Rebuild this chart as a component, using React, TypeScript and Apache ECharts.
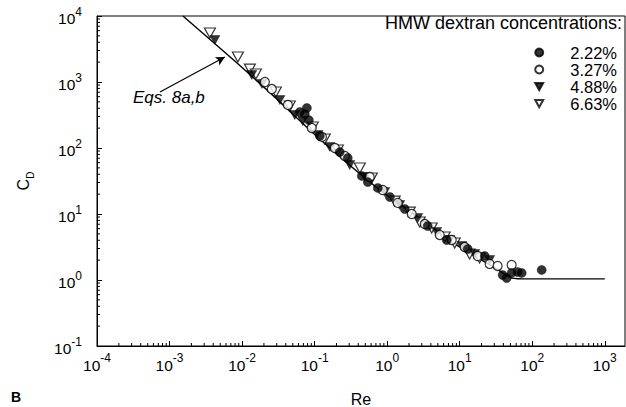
import React, { useEffect, useRef } from "react";
import * as echarts from "echarts";

const FONT = '"Liberation Sans", Arial, Helvetica, sans-serif';

const seriesNames = ["2.22%", "3.27%", "4.88%", "6.63%"];
const legendTitle = "HMW dextran concentrations:";
const eqLabel = "Eqs. 8a,b";

// 2.22 % (filled circles)
const re222 = [0.0625, 0.0733, 0.0832, 0.0782, 0.118, 0.222, 0.286, 0.447, 0.541, 0.743, 1.09, 1.75, 3.62, 6.62, 12.9, 22.1, 39.1, 44.4, 52.0, 63.0, 71.5, 135];
const cd222 = [351, 327, 265, 404, 152, 86.9, 70.5, 37.7, 30.5, 24.8, 18.1, 11.9, 6.58, 4.04, 2.95, 2.31, 1.19, 1.07, 1.28, 1.32, 1.28, 1.42];
// 3.27 % (open circles)
const re327 = [0.0206, 0.0257, 0.0428, 0.0914, 0.126, 0.19, 0.261, 0.575, 0.869, 1.4, 2.18, 3.3, 5.31, 7.76, 11.7, 17.7, 25.9, 33.3, 52.0];
const cd327 = [1000, 783, 449, 201, 147, 100, 75.7, 36.4, 23.1, 14.7, 10.0, 7.05, 4.81, 4.04, 3.16, 2.31, 1.75, 1.63, 1.69];
// 4.88 % (filled down triangles)
const re488 = [0.00422, 0.0136, 0.0188, 0.0332, 0.0533, 0.0687, 0.111, 0.162, 0.305, 0.491, 0.927, 1.49, 2.64, 4.82, 7.28, 10.7, 16.1, 25.9];
const cd488 = [4330, 1276, 933, 533, 316, 256, 157, 104, 55.2, 36.4, 21.5, 13.7, 8.69, 5.33, 4.04, 3.27, 2.48, 2.01];
// 6.63 % (open down triangles)
const re663 = [0.0036, 0.00875, 0.0128, 0.0155, 0.0292, 0.0455, 0.0944, 0.138, 0.209, 0.42, 0.614, 1.27, 2.05, 2.81, 4.11, 6.21, 8.53, 13.7, 18.8];
const cd663 = [5520, 2390, 1570, 1322, 705, 433, 208, 137, 93.3, 49.8, 35.1, 15.7, 10.7, 7.57, 6.14, 4.48, 3.64, 2.48, 2.15];

// Eqs. 8a,b curve
const eqRe = [0.00153, 0.00822, 0.0242, 0.1216, 0.791, 2.81, 10, 18.8, 32.4, 52.0, 92, 1000];
const eqCd = [10000, 2010, 690, 132, 23.1, 8.69, 3.16, 2.08, 1.47, 1.07, 1.04, 1.04];

// annotation arrow (data coords)
const arrowFrom = [0.000738, 705];
const arrowTo = [0.00579, 2390];

// axis ranges
const xMin = 1e-4;
const xMax = 1900;
const yMin = 0.1;
const yMax = 1e4;

const xMinorDecades = [-4, -3, -2, -1, 0, 1, 2];
const yMinorDecades = [-1, 0, 1, 2, 3];
const minorMultipliers = [2, 3, 4, 5, 6, 7, 8, 9];

const pairs = (a: number[], b: number[]) => a.map((v, i) => [v, b[i]]);

const TRI_DOWN = "path://M0,0L10,0L5,9Z";

function expLabel(v: number) {
  const e = Math.log10(v);
  const r = Math.round(e);
  if (Math.abs(e - r) > 1e-6) return "";
  return `{b|10}{s|${r}}`;
}

const tickRich = {
  b: { fontSize: 15.5, fontFamily: FONT, color: "#000", lineHeight: 21, verticalAlign: "bottom" },
  s: { fontSize: 12, fontFamily: FONT, color: "#000", lineHeight: 12, verticalAlign: "top" },
};

export default function App() {
  const ref = useRef<HTMLDivElement>(null);
  useEffect(() => {
    document.body.style.margin = "0";
    if (!ref.current) return;
    const chart = echarts.init(ref.current, undefined, { renderer: "svg" });

    const xMinor: number[][] = [];
    xMinorDecades.forEach((d) => minorMultipliers.forEach((m) => xMinor.push([m * Math.pow(10, d), yMin])));
    const yMinor: number[][] = [];
    yMinorDecades.forEach((d) => minorMultipliers.forEach((m) => yMinor.push([xMin, m * Math.pow(10, d)])));

    const openStyle = { color: "#fff", borderColor: "#000", borderWidth: 1.2 };
    const fillStyle = { color: "#000", borderColor: "#000", borderWidth: 0.5 };

    chart.setOption({
      animation: false,
      backgroundColor: "#fff",
      textStyle: { fontFamily: FONT },
      grid: {
        left: 97, top: 16, right: 1, bottom: 61,
        outerBoundsMode: "none", containLabel: false,
        show: true, borderColor: "#000", borderWidth: 1, backgroundColor: "transparent",
      },
      xAxis: {
        type: "log",
        logBase: 10,
        min: xMin,
        max: xMax,
        name: "Re",
        nameLocation: "middle",
        nameGap: 45,
        nameTextStyle: { fontSize: 16, color: "#000", fontFamily: FONT },
        axisLine: { lineStyle: { color: "#000", width: 1 } },
        axisTick: { inside: true, length: 5, lineStyle: { color: "#000" } },
        axisLabel: { margin: 6, formatter: expLabel, rich: tickRich, showMaxLabel: false },
        splitLine: { show: false },
      },
      yAxis: {
        type: "log",
        logBase: 10,
        min: yMin,
        max: yMax,
        name: "{c|C}{d|D}",
        nameLocation: "middle",
        nameRotate: 90,
        nameGap: 62,
        nameTextStyle: {
          rich: {
            c: { fontSize: 16, fontFamily: FONT, color: "#000", lineHeight: 20, verticalAlign: "top" },
            d: { fontSize: 10, fontFamily: FONT, color: "#000", lineHeight: 10, verticalAlign: "bottom" },
          },
        },
        axisLine: { lineStyle: { color: "#000", width: 1 } },
        axisTick: { inside: true, length: 5, lineStyle: { color: "#000" } },
        axisLabel: { margin: 15, formatter: expLabel, rich: tickRich },
        splitLine: { show: false },
      },
      legend: {
        data: seriesNames,
        orient: "vertical",
        right: 4,
        top: 39,
        itemWidth: 8,
        itemHeight: 8,
        itemGap: 0,
        selectedMode: false,
        align: "left",
        textStyle: { fontSize: 16.5, fontFamily: FONT, color: "#000", lineHeight: 16, padding: [0, 0, 0, 22] },
      },
      graphic: [
        { type: "text", right: 4, top: 14, style: { text: legendTitle, font: `18px ${FONT}`, fill: "#000" } },
        { type: "text", left: 133, top: 89, style: { text: eqLabel, font: `italic 17px ${FONT}`, fill: "#000" } },
        { type: "text", left: 11, top: 390, style: { text: "B", font: `bold 14px ${FONT}`, fill: "#000" } },
      ],
      series: [
        {
          type: "line",
          name: "Eqs. 8a,b",
          data: pairs(eqRe, eqCd),
          showSymbol: false,
          symbol: "none",
          smooth: 0.2,
          clip: true,
          lineStyle: { color: "#000", width: 1.4 },
          silent: true,
          z: 1,
          markLine: {
            silent: true,
            symbol: ["none", "arrow"],
            symbolSize: [7, 9],
            lineStyle: { color: "#000", width: 1.2, type: "solid" },
            label: { show: false },
            data: [[{ coord: arrowFrom }, { coord: arrowTo }]],
          },
        },
        {
          type: "scatter",
          name: seriesNames[3],
          data: pairs(re663, cd663),
          symbol: TRI_DOWN,
          symbolSize: [11, 10],
          itemStyle: openStyle,
          z: 2,
        },
        {
          type: "scatter",
          name: seriesNames[2],
          data: pairs(re488, cd488),
          symbol: TRI_DOWN,
          symbolSize: [10, 9],
          itemStyle: fillStyle,
          z: 3,
        },
        {
          type: "scatter",
          name: seriesNames[1],
          data: pairs(re327, cd327),
          symbol: "circle",
          symbolSize: 9,
          itemStyle: openStyle,
          z: 4,
        },
        {
          type: "scatter",
          name: seriesNames[0],
          data: pairs(re222, cd222),
          symbol: "circle",
          symbolSize: 9,
          itemStyle: fillStyle,
          z: 5,
        },
        {
          type: "custom",
          name: "xminor",
          silent: true,
          data: xMinor,
          renderItem: (params: any, api: any) => {
            const p = api.coord([api.value(0), api.value(1)]);
            return { type: "line", shape: { x1: p[0], y1: p[1], x2: p[0], y2: p[1] - 3 }, style: { stroke: "#000", lineWidth: 1 } };
          },
          z: 6,
        },
        {
          type: "custom",
          name: "yminor",
          silent: true,
          data: yMinor,
          renderItem: (params: any, api: any) => {
            const p = api.coord([api.value(0), api.value(1)]);
            return { type: "line", shape: { x1: p[0], y1: p[1], x2: p[0] + 3, y2: p[1] }, style: { stroke: "#000", lineWidth: 1 } };
          },
          z: 6,
        },
      ],
    });
    return () => chart.dispose();
  }, []);
  return <div ref={ref} style={{ width: 626, height: 407 }} />;
}
